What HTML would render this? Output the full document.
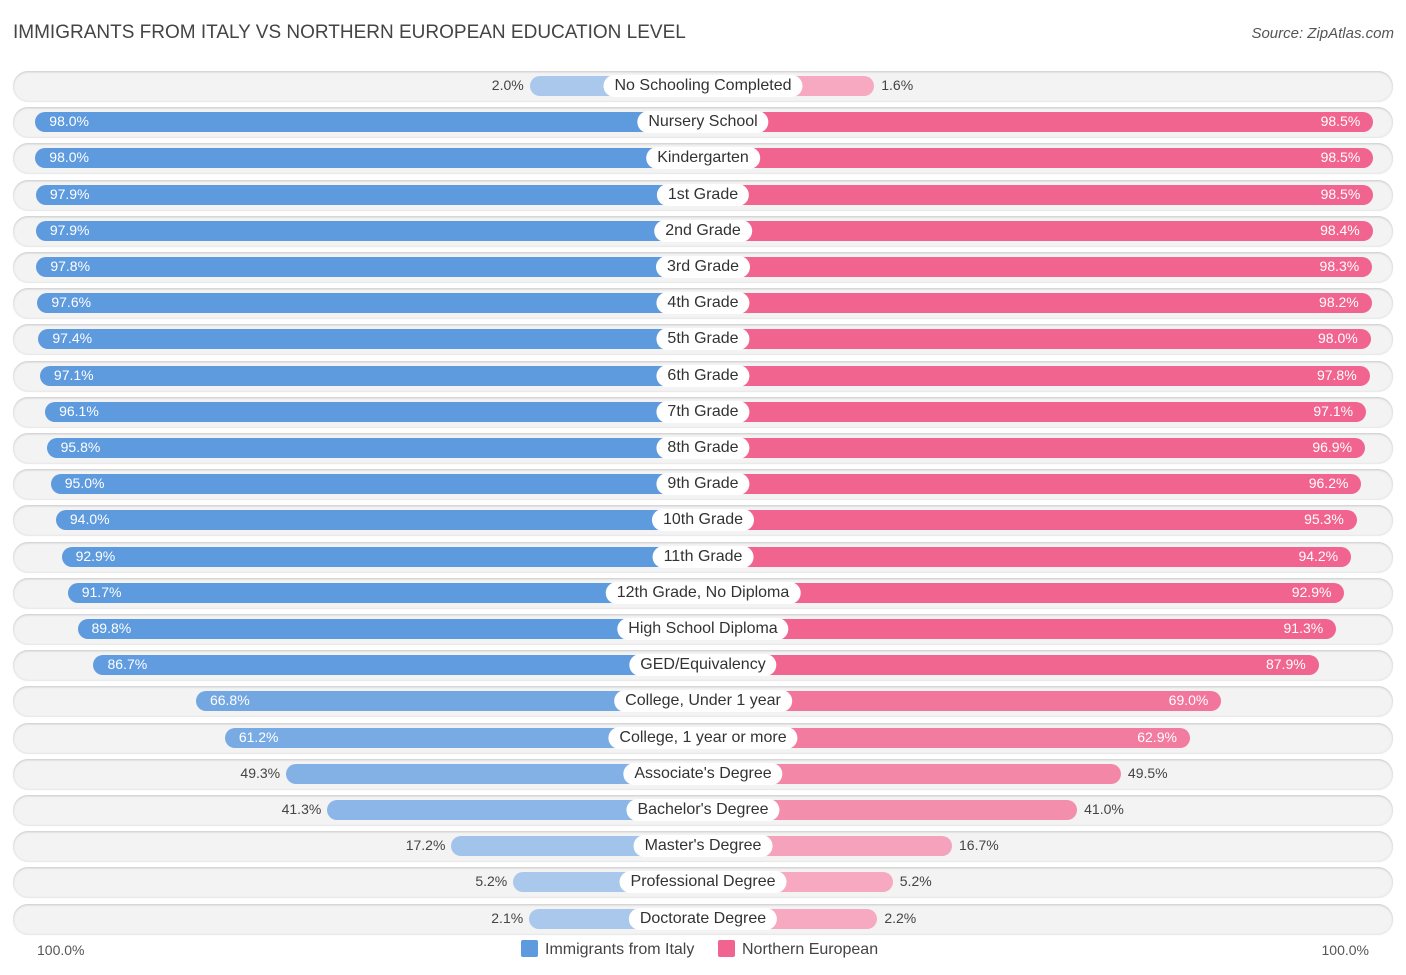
<!DOCTYPE html>
<html><head><meta charset="utf-8"><style>
body{margin:0;width:1406px;height:975px;background:#fff;font-family:"Liberation Sans",sans-serif;overflow:hidden;position:relative}
.t{position:absolute;white-space:nowrap}
</style></head><body>
<div class="t" style="left:13px;top:22px;font-size:19px;color:#444">IMMIGRANTS FROM ITALY VS NORTHERN EUROPEAN EDUCATION LEVEL</div>
<div class="t" style="right:12px;top:25px;font-size:15px;color:#555;font-style:italic">Source: ZipAtlas.com</div>
<div id="rows"></div>
<div class="t" style="left:37px;top:942px;font-size:14px;color:#555">100.0%</div>
<div class="t" style="right:37px;top:942px;font-size:14px;color:#555">100.0%</div>
<div class="t" style="left:521px;top:940px;font-size:16px;color:#444"><span style="display:inline-block;width:17px;height:17px;background:#5d9ade;border-radius:2px;vertical-align:-3px;margin-right:7px"></span>Immigrants from Italy</div>
<div class="t" style="left:718px;top:940px;font-size:16px;color:#444"><span style="display:inline-block;width:17px;height:17px;background:#f0648f;border-radius:2px;vertical-align:-3px;margin-right:7px"></span>Northern European</div>
<script>
const categories=["No Schooling Completed","Nursery School","Kindergarten","1st Grade","2nd Grade","3rd Grade","4th Grade","5th Grade","6th Grade","7th Grade","8th Grade","9th Grade","10th Grade","11th Grade","12th Grade, No Diploma","High School Diploma","GED/Equivalency","College, Under 1 year","College, 1 year or more","Associate's Degree","Bachelor's Degree","Master's Degree","Professional Degree","Doctorate Degree"];
const italy=[2.0,98.0,98.0,97.9,97.9,97.8,97.6,97.4,97.1,96.1,95.8,95.0,94.0,92.9,91.7,89.8,86.7,66.8,61.2,49.3,41.3,17.2,5.2,2.1];
const northern=[1.6,98.5,98.5,98.5,98.4,98.3,98.2,98.0,97.8,97.1,96.9,96.2,95.3,94.2,92.9,91.3,87.9,69.0,62.9,49.5,41.0,16.7,5.2,2.2];
const cx=703,y0=86,step=36.2;
function w(v){return 163+5.15*v;}
function mix(a,b,t){return 'rgb('+a.map((x,i)=>Math.round(x+(b[i]-x)*t)).join(',')+')';}
function col(v,dark,light){const t=Math.max(0,Math.min(1,(v-10)/80));return mix(light,dark,t);}
const root=document.getElementById('rows');
function add(html){root.insertAdjacentHTML('beforeend',html);}
categories.forEach((c,i)=>{
  const y=y0+i*step;
  const bg=document.createElement('div');
  
  
  bg.style.cssText=`position:absolute;left:13px;width:1380px;top:${y-15}px;height:30px;border-radius:15px;background:#f3f3f3;box-shadow:0 1px 2px rgba(0,0,0,.18) inset,0 1px 1px rgba(0,0,0,.1)`;
  root.appendChild(bg);
  const a=italy[i],b=northern[i];
  const wl=w(a),wr=w(b);
  const lb=document.createElement('div');
  
  
  lb.style.cssText=`position:absolute;left:${cx-wl}px;width:${wl}px;top:${y-10}px;height:20px;border-radius:10px 0 0 10px;background:${col(a,[93,154,222],[169,200,236])}`;
  root.appendChild(lb);
  const rb=document.createElement('div');
  
  
  rb.style.cssText=`position:absolute;left:${cx}px;width:${wr}px;top:${y-10}px;height:20px;border-radius:0 10px 10px 0;background:${col(b,[240,100,143],[246,169,192])}`;
  root.appendChild(rb);
  const lab=document.createElement('div');
  
  
  lab.className='t';
  lab.textContent=c;
  lab.style.cssText=`left:${cx}px;top:${y-11}px;transform:translateX(-50%);background:#fff;border-radius:11px;padding:0 11px;height:22px;line-height:22px;font-size:16px;color:#333`;
  root.appendChild(lab);
  const lv=document.createElement('div');
  
  
  lv.className='t';lv.textContent=a.toFixed(1)+'%';
  if(a>55){lv.style.cssText=`left:${cx-wl+14}px;top:${y-9}px;font-size:14px;color:#fff`;}
  else{lv.style.cssText=`right:${1406-(cx-wl)+6}px;top:${y-9}px;font-size:14px;color:#444`;}
  root.appendChild(lv);
  const rv=document.createElement('div');
  
  
  rv.className='t';rv.textContent=b.toFixed(1)+'%';
  if(b>55){rv.style.cssText=`right:${1406-(cx+wr)+13}px;top:${y-9}px;font-size:14px;color:#fff`;}
  else{rv.style.cssText=`left:${cx+wr+7}px;top:${y-9}px;font-size:14px;color:#444`;}
  root.appendChild(rv);
});
</script>
</body></html>
